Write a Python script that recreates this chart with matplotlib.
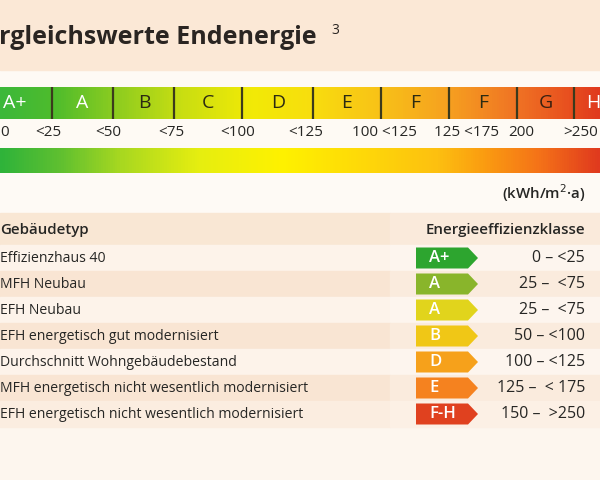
import matplotlib
matplotlib.use("Agg")
import matplotlib.pyplot as plt
import numpy as np
from matplotlib.colors import LinearSegmentedColormap
from matplotlib.patches import Rectangle, Polygon

# ---------------- data ----------------
title_text = "rgleichswerte Endenergie"
title_sup = "3"
scale_labels = ["A+", "A", "B", "C", "D", "E", "F", "F", "G", "H"]
scale_label_colors = ["white", "white", "#2b2a12", "#2b2a12", "#2b2a12",
                      "#2b2a12", "#2b2a12", "#2b2a12", "#3a2010", "white"]
tick_labels = ["0", "<25", "<50", "<75", "<100", "<125", "100 <125",
               "125 <175", "200", ">250"]
unit_label = "(kWh/m$^2$·a)"
header_left = "Gebäudetyp"
header_right = "Energieeffizienzklasse"
building_types = ["Effizienzhaus 40", "MFH Neubau", "EFH Neubau",
                  "EFH energetisch gut modernisiert",
                  "Durchschnitt Wohngebäudebestand",
                  "MFH energetisch nicht wesentlich modernisiert",
                  "EFH energetisch nicht wesentlich modernisiert"]
classes = ["A+", "A", "A", "B", "D", "E", "F-H"]
ranges = ["0 – <25", "25 –  <75", "25 –  <75", "50 – <100",
          "100 – <125", "125 –  < 175", "150 –  >250"]

# ---------------- layout / style ----------------
seg_edges = [-22, 52, 113, 174, 242, 313, 381, 449, 517, 574, 636]
seg_label_x = [15, 82, 144, 208, 278, 347, 415, 483, 546, 600]
seg_label_ha = ["center"] * 9 + ["right"]
tick_x = [0, 48, 108, 171, 238, 306, 384, 467, 521, 581]
tick_ha = ["left"] + ["center"] * 9
badge_colors = ["#2da52f", "#89b52b", "#e1d41c", "#f0c716", "#f6a11b",
                "#f5821f", "#e0411f"]
bar_cmap = LinearSegmentedColormap.from_list("bar", [
    (0.0, "#3cb83a"), (0.09, "#4fbc2c"), (0.19, "#8ccc20"), (0.3, "#c8de12"),
    (0.42, "#f2ea06"), (0.52, "#f8de0e"), (0.64, "#f8c018"), (0.75, "#f6a020"),
    (0.86, "#f07424"), (0.95, "#e8501f"), (1.0, "#e03a1e")])
grad_cmap = LinearSegmentedColormap.from_list("grad", [
    (0.0, "#2fb33a"), (0.1, "#60c030"), (0.2, "#a8d820"), (0.33, "#e6ee10"),
    (0.47, "#fff200"), (0.63, "#fed40a"), (0.73, "#fdc010"), (0.8, "#fba010"),
    (0.9, "#f57318"), (1.0, "#e03a1e")])

FONT = "Open Sans"
DARK = "#262624"

fig = plt.figure(figsize=(6, 4.8), dpi=100)
ax = fig.add_axes([0, 0, 1, 1])

# backgrounds
ax.add_patch(Rectangle((0, 0), 600, 480, color="#fdf6ee", zorder=0))
ax.add_patch(Rectangle((0, 70), 600, 145, color="#fefaf5", zorder=0.5))
ax.add_patch(Rectangle((0, 0), 600, 70, color="#fbe8d6", zorder=1))

# title
ax.text(-1, 38, title_text, fontsize=18, fontweight="bold", family=FONT,
        color="#2a2522", ha="left", va="center", zorder=5)
ax.text(331, 30, title_sup, fontsize=10, family=FONT, color="#2a2522",
        ha="left", va="center", zorder=5)

# segmented scale bar
grad = np.linspace(0, 1, 600).reshape(1, -1)
ax.imshow(grad, cmap=bar_cmap, extent=[0, 600, 119, 87], aspect="auto",
          zorder=2, interpolation="bilinear")
for i, lab in enumerate(scale_labels):
    ax.text(seg_label_x[i], 103, lab, fontsize=14, family=FONT,
            color=scale_label_colors[i], ha=seg_label_ha[i], va="center",
            zorder=5)
    if 0 < i:
        ax.plot([seg_edges[i], seg_edges[i]], [87, 119], color="#3b3a1c",
                lw=1.6, zorder=4, solid_capstyle="butt")

# tick labels
ax.add_patch(Rectangle((0, 119), 600, 29, color="#fefaf4", zorder=1))
for x, lab, ha in zip(tick_x, tick_labels, tick_ha):
    ax.text(x, 133, lab, fontsize=11, family=FONT, color=DARK,
            ha=ha, va="center", zorder=5)

# continuous gradient bar
ax.imshow(grad, cmap=grad_cmap, extent=[0, 600, 173, 148], aspect="auto",
          zorder=2, interpolation="bilinear")

# unit
ax.text(585, 193, unit_label, fontsize=10.8, family=FONT, color=DARK,
        ha="right", va="center", zorder=5, fontweight="semibold")

# table header
ax.add_patch(Rectangle((0, 213), 390, 32, color="#f9e7d4", zorder=1))
ax.add_patch(Rectangle((390, 213), 210, 32, color="#faeadb", zorder=1))
ax.text(0, 230, header_left, fontsize=10.8, family=FONT, fontweight="semibold",
        color=DARK, ha="left", va="center", zorder=5)
ax.text(585, 230, header_right, fontsize=10.8, family=FONT,
        fontweight="semibold", color=DARK, ha="right", va="center", zorder=5)

# table rows
row_h = 26
top = 245
for i, (btype, cls, rng, col) in enumerate(zip(building_types, classes, ranges,
                                               badge_colors)):
    y0 = top + i * row_h
    yc = y0 + row_h / 2
    if i % 2 == 1:
        lc, rc = "#f9e5d3", "#faebdd"
    else:
        lc, rc = "#fdf3ea", "#fdf5ee"
    if i == len(building_types) - 1:
        lc, rc = "#fbede0", "#fcf0e5"
    ax.add_patch(Rectangle((0, y0), 390, row_h, color=lc, zorder=1))
    ax.add_patch(Rectangle((390, y0), 210, row_h, color=rc, zorder=1))
    ax.text(0, yc, btype, fontsize=10.1, family=FONT, color=DARK,
            ha="left", va="center", zorder=5)
    bh = 21
    poly = Polygon([(416, yc - bh / 2), (468, yc - bh / 2), (478, yc),
                    (468, yc + bh / 2), (416, yc + bh / 2)], closed=True,
                   facecolor=col, edgecolor="none", zorder=3)
    ax.add_patch(poly)
    ax.text(429, yc, cls, fontsize=12, family=FONT, color="white",
            fontweight="semibold", ha="left", va="center", zorder=5)
    ax.text(585, yc, rng, fontsize=11.5, family=FONT, color=DARK,
            ha="right", va="center", zorder=5)

ax.set_xlim(0, 600)
ax.set_ylim(480, 0)
ax.axis("off")
fig.savefig("out.png", dpi=100)
